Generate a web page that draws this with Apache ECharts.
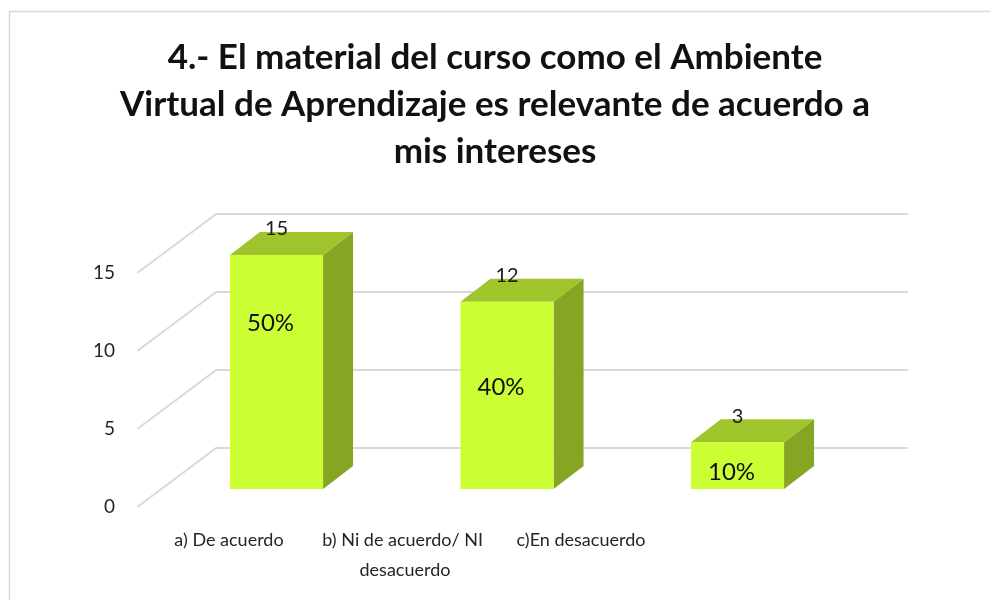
<!DOCTYPE html>
<html>
<head>
<meta charset="utf-8">
<script src="https://cdn.jsdelivr.net/npm/echarts@6/dist/echarts.min.js"></script>
<style>
html,body{margin:0;padding:0;background:#fff;}
#chart{width:990px;height:600px;}
</style>
</head>
<body>
<div id="chart"></div>
<script>
// ---- data ----
const titleText = '4.- El material del curso como el Ambiente\nVirtual de Aprendizaje es relevante de acuerdo a\nmis intereses';
const categories = ['a) De acuerdo', 'b) Ni de acuerdo/ NI desacuerdo', 'c)En desacuerdo'];
const counts = [15, 12, 3];
const yTicks = [0, 5, 10, 15];
// height (in value units) where the percentage label sits inside each bar
const pctLabelLevel = [10.6, 6.5, 1.1];

const total = counts.reduce((a, b) => a + b, 0);
const percents = counts.map(v => Math.round(v / total * 100) + '%');

const FONT = 'Lato, "Open Sans", "Liberation Sans", sans-serif';
const DEPTH_BAR = [30, -23];
const BACK = [55, -41];
const FRONT = [-24, 18];

const chart = echarts.init(document.getElementById('chart'), null, {renderer: 'canvas'});

function gridRender(params, api) {
  const v = api.value(1);
  const p = api.coord([0, v]);
  const cs = params.coordSys;
  const left = cs.x, right = cs.x + cs.width;
  const y = p[1];
  return {
    type: 'polyline',
    shape: {points: [[left + FRONT[0], y + FRONT[1]], [left + BACK[0], y + BACK[1]], [right + BACK[0], y + BACK[1]]]},
    style: {stroke: '#D9D9D9', lineWidth: 2, fill: null},
    z2: 0
  };
}

function barRender(params, api) {
  const i = api.value(0);
  const v = api.value(1);
  const top = api.coord([i, v]);
  const base = api.coord([i, 0]);
  const w = api.size([1, 0])[0] * 0.404;
  const x0 = top[0] - w / 2, x1 = top[0] + w / 2;
  const yt = top[1], yb = base[1];
  const dx = DEPTH_BAR[0], dy = DEPTH_BAR[1];
  const lab = api.coord([i, pctLabelLevel[params.dataIndex]]);
  return {
    type: 'group',
    children: [
      {type: 'polygon', shape: {points: [[x1, yt], [x1 + dx, yt + dy], [x1 + dx, yb + dy], [x1, yb]]}, style: {fill: '#85A523'}},
      {type: 'polygon', shape: {points: [[x0, yt], [x0 + dx, yt + dy], [x1 + dx, yt + dy], [x1, yt]]}, style: {fill: '#A0C42B'}},
      {type: 'rect', shape: {x: x0, y: yt, width: w, height: yb - yt}, style: {fill: '#CCFF33'}},
      {type: 'text', x: top[0], y: yt - 26, style: {text: String(v), fontSize: 20, fontFamily: FONT, fill: '#1a1a1a', align: 'center', verticalAlign: 'middle'}},
      {type: 'text', x: top[0] - 6, y: lab[1], style: {text: percents[params.dataIndex], fontSize: 24, fontFamily: FONT, fill: '#111', align: 'center', verticalAlign: 'middle'}}
    ]
  };
}

const option = {
  backgroundColor: '#fff',
  animation: false,
  title: {
    text: titleText,
    left: 'center',
    top: 29,
    textStyle: {fontSize: 35, fontWeight: 'bold', fontFamily: FONT, color: '#111', lineHeight: 47}
  },
  graphic: [{
    type: 'rect', shape: {x: 9.5, y: 11.5, width: 1100, height: 700},
    style: {fill: null, stroke: '#D9D9D9', lineWidth: 1.5}, silent: true
  }],
  grid: [
    {left: 161.25, width: 691.5, top: 255, height: 234},
    {left: 137, width: 10, top: 273, height: 234},
    {left: 141, width: 528, top: 400, bottom: 85}
  ],
  xAxis: [
    {gridIndex: 0, type: 'category', data: categories, show: false},
    {gridIndex: 1, type: 'category', data: [''], show: false},
    {gridIndex: 2, type: 'category', data: categories, axisLine: {show: false}, axisTick: {show: false},
      axisLabel: {margin: 10, fontSize: 18, fontFamily: FONT, color: '#262626', lineHeight: 30, width: 172, overflow: 'break', interval: 0}}
  ],
  yAxis: [
    {gridIndex: 0, type: 'value', min: 0, max: 15, interval: 5, show: false},
    {gridIndex: 1, type: 'value', min: 0, max: 15, interval: 5, axisLine: {show: false}, axisTick: {show: false},
      splitLine: {show: false}, axisLabel: {margin: 22, fontSize: 19, fontFamily: FONT, color: '#262626'}},
    {gridIndex: 2, type: 'value', show: false}
  ],
  series: [
    {type: 'custom', xAxisIndex: 0, yAxisIndex: 0, renderItem: gridRender, clip: false, silent: true, z: 1,
      data: yTicks.map(t => [0, t])},
    {type: 'custom', xAxisIndex: 0, yAxisIndex: 0, renderItem: barRender, clip: false, z: 2,
      data: counts.map((v, i) => [i, v])}
  ]
};
chart.setOption(option);
</script>
</body>
</html>
